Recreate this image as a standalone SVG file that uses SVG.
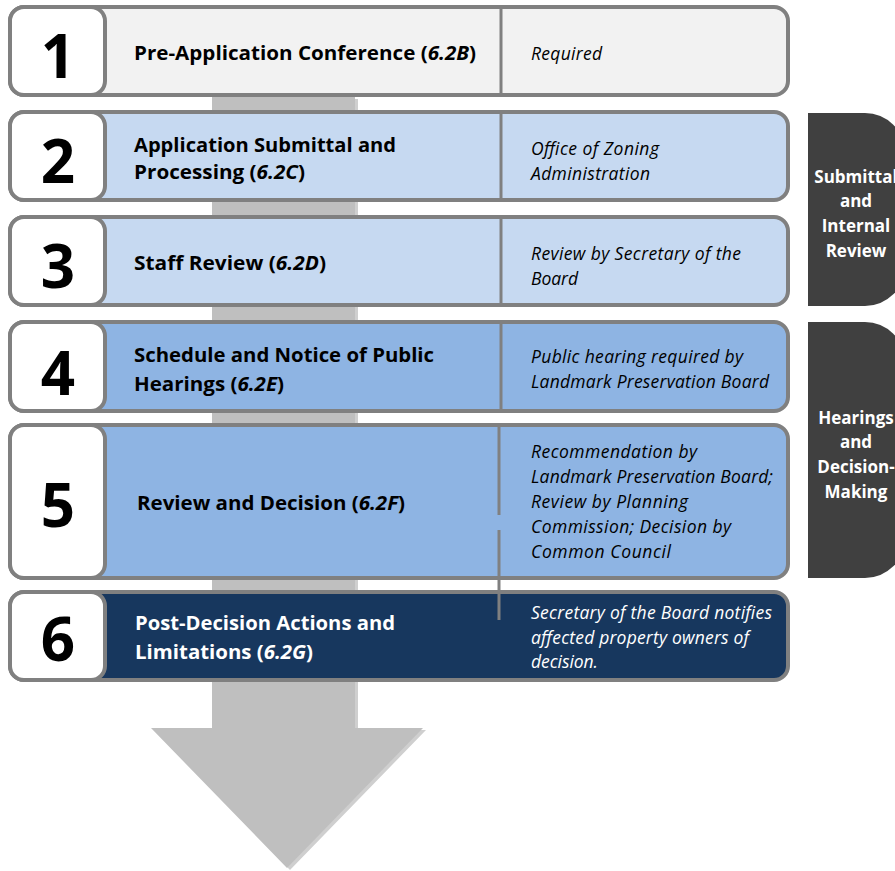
<svg xmlns="http://www.w3.org/2000/svg" width="895" height="871" viewBox="0 0 895 871">
<style>
.row{stroke:#808080;stroke-width:4}
.num{fill:#fff;stroke:#808080;stroke-width:4}
.div{stroke:#808080;stroke-width:3}
.n{font-family:"Open Sans","Noto Sans",sans-serif;font-weight:bold;font-size:60px;fill:#000;text-anchor:middle}
.t{font-family:"Open Sans","Noto Sans",sans-serif;font-weight:bold;font-size:20px;fill:#000}
.i{font-family:"Open Sans","Noto Sans",sans-serif;font-style:italic;font-size:17.5px;fill:#000}
.w{fill:#fff}
.tab{fill:#404040}
.tt{font-family:"Open Sans","Noto Sans",sans-serif;font-weight:bold;font-size:17px;fill:#fff;text-anchor:middle}
</style>
<g id="arrow">
<polygon points="215,99 358,99 358,730 426,730 290,870 154,730 215,730" fill="#cfcfcf"/>
<polygon points="212,97 355,97 355,728 423,728 287,868 151,728 212,728" fill="#bfbfbf"/>
</g>
<g id="tabs">
<g id="tab1"><path class="tab" d="M808,113 H865 A40,40 0 0 1 905,153 V266 A40,40 0 0 1 865,306 H808 Z"/>
<text class="tt" x="856" y="183">Submittal</text><text class="tt" x="856" y="207">and</text><text class="tt" x="856" y="232">Internal</text><text class="tt" x="856" y="257">Review</text></g>
<g id="tab2"><path class="tab" d="M808,322 H865 A40,40 0 0 1 905,362 V538 A40,40 0 0 1 865,578 H808 Z"/>
<text class="tt" x="856" y="424">Hearings</text><text class="tt" x="856" y="448">and</text><text class="tt" x="856" y="473">Decision-</text><text class="tt" x="856" y="498">Making</text></g>
</g>
<g id="step1">
<rect class="row" x="10" y="7" width="778" height="88" rx="14" fill="#f2f2f2"/>
<line class="div" x1="501" y1="9" x2="501" y2="93"/>
<rect class="num" x="10" y="7" width="95" height="88" rx="14"/>
<text class="n" x="58" y="78">1</text>
<text class="t" x="134" y="60" textLength="342" lengthAdjust="spacingAndGlyphs">Pre-Application Conference (<tspan font-style="italic">6.2B</tspan>)</text>
<text class="i" x="531" y="60" textLength="71">Required</text>
</g>
<g id="step2">
<rect class="row" x="10" y="112" width="778" height="88" rx="14" fill="#c6d9f1"/>
<line class="div" x1="501" y1="114" x2="501" y2="198"/>
<rect class="num" x="10" y="112" width="95" height="88" rx="14"/>
<text class="n" x="58" y="183">2</text>
<text class="t" x="134" y="152" textLength="262" lengthAdjust="spacingAndGlyphs">Application Submittal and</text>
<text class="t" x="134" y="179" textLength="171" lengthAdjust="spacingAndGlyphs">Processing (<tspan font-style="italic">6.2C</tspan>)</text>
<text class="i" x="531" y="155" textLength="128">Office of Zoning</text>
<text class="i" x="531" y="180" textLength="119">Administration</text>
</g>
<g id="step3">
<rect class="row" x="10" y="217" width="778" height="88" rx="14" fill="#c6d9f1"/>
<line class="div" x1="501" y1="219" x2="501" y2="303"/>
<rect class="num" x="10" y="217" width="95" height="88" rx="14"/>
<text class="n" x="58" y="288">3</text>
<text class="t" x="134" y="270" textLength="192" lengthAdjust="spacingAndGlyphs">Staff Review (<tspan font-style="italic">6.2D</tspan>)</text>
<text class="i" x="531" y="260" textLength="210">Review by Secretary of the</text>
<text class="i" x="531" y="285" textLength="47">Board</text>
</g>
<g id="step4">
<rect class="row" x="10" y="322" width="778" height="89" rx="14" fill="#8eb4e3"/>
<line class="div" x1="501" y1="324" x2="501" y2="409"/>
<rect class="num" x="10" y="322" width="95" height="89" rx="14"/>
<text class="n" x="58" y="395">4</text>
<text class="t" x="134" y="362" textLength="300" lengthAdjust="spacingAndGlyphs">Schedule and Notice of Public</text>
<text class="t" x="134" y="391" textLength="150" lengthAdjust="spacingAndGlyphs">Hearings (<tspan font-style="italic">6.2E</tspan>)</text>
<text class="i" x="531" y="363" textLength="212">Public hearing required by</text>
<text class="i" x="531" y="388" textLength="238">Landmark Preservation Board</text>
</g>
<g id="step5">
<rect class="row" x="10" y="425" width="778" height="153" rx="14" fill="#8eb4e3"/>
<rect class="num" x="10" y="425" width="95" height="153" rx="14"/>
<text class="n" x="58" y="527">5</text>
<text class="t" x="137" y="510" textLength="268" lengthAdjust="spacingAndGlyphs">Review and Decision (<tspan font-style="italic">6.2F</tspan>)</text>
<text class="i" x="531" y="458" textLength="166">Recommendation by</text>
<text class="i" x="531" y="483" textLength="242">Landmark Preservation Board;</text>
<text class="i" x="531" y="508" textLength="157">Review by Planning</text>
<text class="i" x="531" y="533" textLength="200">Commission; Decision by</text>
<text class="i" x="531" y="558" textLength="140">Common Council</text>
</g>
<g id="step6">
<rect class="row" x="10" y="592" width="778" height="88" rx="14" fill="#17375e"/>
<rect class="num" x="10" y="592" width="95" height="88" rx="14"/>
<text class="n" x="58" y="661">6</text>
<text class="t w" x="135" y="630" textLength="260" lengthAdjust="spacingAndGlyphs">Post-Decision Actions and</text>
<text class="t w" x="135" y="659" textLength="178" lengthAdjust="spacingAndGlyphs">Limitations (<tspan font-style="italic">6.2G</tspan>)</text>
<text class="i w" x="531" y="619" textLength="241">Secretary of the Board notifies</text>
<text class="i w" x="531" y="644" textLength="218">affected property owners of</text>
<text class="i w" x="531" y="668" textLength="67">decision.</text>
</g>
<g id="connectors">
<line class="div" x1="499" y1="427" x2="499" y2="515"/>
<line class="div" x1="499" y1="530" x2="499" y2="620"/>
</g>
</svg>
